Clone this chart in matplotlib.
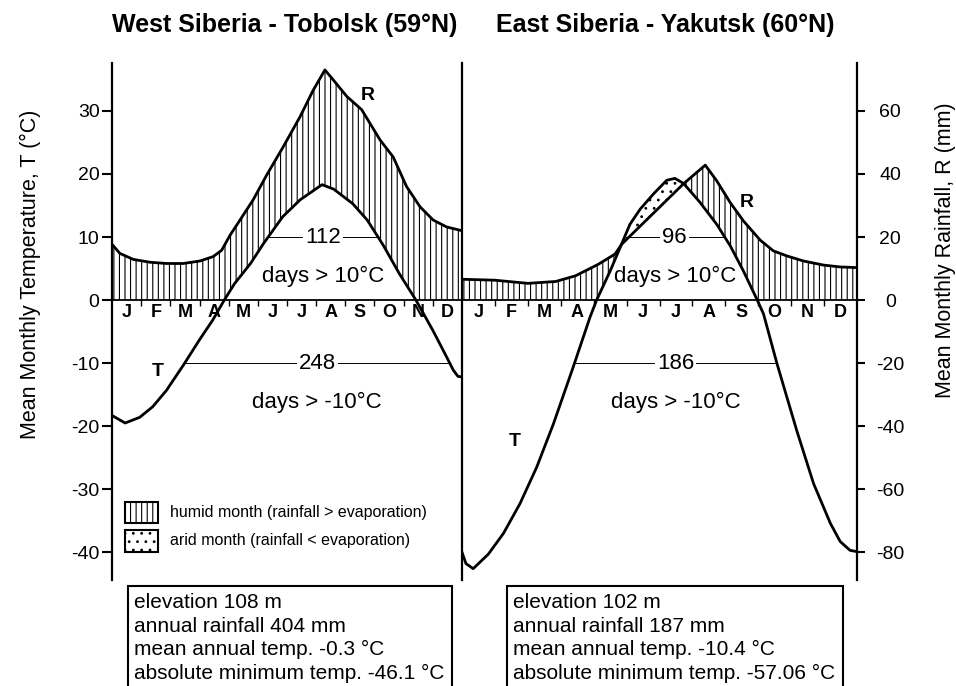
import matplotlib.pyplot as plt
import numpy as np
from matplotlib.patches import Rectangle

plt.rcParams['font.family'] = ['Liberation Sans', 'DejaVu Sans']
plt.rcParams['hatch.linewidth'] = 0.8
plt.rcParams['axes.unicode_minus'] = False

W, H = 956, 686

months = ['J', 'F', 'M', 'A', 'M', 'J', 'J', 'A', 'S', 'O', 'N', 'D']

# West Siberia - Tobolsk; positions in months from 1 Jan, temperature in degC, rainfall in mm
tob_t_pos = [0, 0.45, 0.95, 1.4, 1.87, 2.45, 3.0, 3.45, 3.85, 4.2, 4.75, 5.2, 5.85, 6.45, 7.2, 7.6,
             8.25, 8.75, 9.3, 9.85, 10.42, 11.0, 11.47, 11.7, 11.86, 12]
tob_temp = [-18.3, -19.5, -18.6, -16.9, -14.3, -10.3, -6.3, -3.2, 0, 2.6, 5.8, 9.0, 13.2, 15.9, 18.3, 17.6,
            15.3, 12.7, 8.7, 4.2, 0, -4.8, -9.0, -11.1, -12.1, -12.2]
tob_r_pos = [0, 0.27, 0.73, 1.3, 1.87, 2.44, 3.02, 3.47, 3.76, 4.05, 4.39, 4.84, 5.3, 5.87, 6.45, 6.9,
             7.3, 7.59, 8.05, 8.56, 9.19, 9.64, 10.1, 10.56, 11.01, 11.47, 12]
tob_rain = [17.7, 14.8, 12.9, 12.0, 11.6, 11.6, 12.4, 13.8, 15.8, 20.6, 25.4, 31.8, 39.6, 48.6, 58.2, 66.6,
            73.0, 69.8, 64.6, 60.4, 50.8, 45.4, 36.0, 29.6, 25.4, 23.2, 22.0]

# East Siberia - Yakutsk
yak_t_pos = [0, 0.12, 0.34, 0.8, 1.26, 1.76, 2.27, 2.78, 3.38, 3.89, 4.09, 4.5, 4.85, 5.1, 5.41, 5.81,
             6.22, 6.47, 6.73, 7.23, 7.74, 8.15, 8.55, 8.97, 9.16, 9.57, 10.17, 10.68, 11.19, 11.49, 11.79, 12]
yak_temp = [-40.0, -41.8, -42.6, -40.3, -37.0, -32.3, -26.5, -19.6, -10.6, -2.7, 0, 4.6, 8.9, 12.0, 14.4, 16.8,
            19.0, 19.3, 18.5, 15.5, 12.0, 8.6, 4.6, 0, -2.2, -10.1, -20.7, -29.1, -35.4, -38.3, -39.7, -39.9]
yak_r_pos = [0, 1.0, 2.0, 2.85, 3.45, 4.15, 4.65, 4.85, 6.73, 7.39, 7.74, 8.15, 8.55, 9.06, 9.46, 9.87,
             10.37, 10.98, 11.49, 12]
yak_rain = [6.6, 6.3, 5.3, 5.9, 7.7, 11.4, 14.6, 17.7, 36.9, 42.8, 37.8, 30.9, 25.1, 19.0, 15.6, 14.0,
            12.4, 11.1, 10.5, 10.3]

tob_title = 'West Siberia - Tobolsk (59°N)'
yak_title = 'East Siberia - Yakutsk (60°N)'
tob_days = (112, 248)
yak_days = (96, 186)
tob_info = ['elevation 108 m', 'annual rainfall 404 mm', 'mean annual temp. -0.3 °C',
            'absolute minimum temp. -46.1 °C']
yak_info = ['elevation 102 m', 'annual rainfall 187 mm', 'mean annual temp. -10.4 °C',
            'absolute minimum temp. -57.06 °C']

t_lo, t_hi = -44.4, 37.6


def fx(px):
    return px / W


def fy(py):
    return 1 - py / H


def crossings(x, y, level):
    x = np.asarray(x, float)
    d = np.asarray(y, float) - level
    idx = np.where(np.sign(d[:-1]) != np.sign(d[1:]))[0]
    return [x[i] + (x[i + 1] - x[i]) * d[i] / (d[i] - d[i + 1]) for i in idx]


def draw_panel(ax, t_pos, temp, r_pos, rain, days, hatch, r_lab, t_lab):
    rain_t = np.asarray(rain) / 2  # 10 degC == 20 mm
    x = np.union1d(t_pos, r_pos)
    t = np.interp(x, t_pos, temp)
    r = np.interp(x, r_pos, rain_t)
    lower = np.maximum(t, 0)
    ax.fill_between(x, lower, r, where=r >= lower, interpolate=True, facecolor='none',
                    edgecolor='black', hatch=hatch, linewidth=0)
    ax.fill_between(x, r, t, where=t > r, interpolate=True, facecolor='none',
                    edgecolor='black', hatch='..', linewidth=0)
    ax.axhline(0, color='black', lw=1.3)
    ax.vlines(np.arange(1, 12), -0.9, 0, color='black', lw=1)
    ax.plot(r_pos, rain_t, color='black', lw=2.0, solid_joinstyle='round')
    ax.plot(t_pos, temp, color='black', lw=2.0, solid_joinstyle='round')
    for i, m in enumerate(months):
        ax.text(i + 0.5, -1.9, m, ha='center', va='center', fontsize=13, fontweight='bold')

    for level, n, lab in [(10, days[0], 'days > 10°C'), (-10, days[1], 'days > -10°C')]:
        c = crossings(t_pos, temp, level)
        x0, x1 = c[0], c[-1]
        ax.hlines(level, x0, x1, color='black', lw=0.7)
        xm = (x0 + x1) / 2
        ax.text(xm, level, str(n), ha='center', va='center', fontsize=16,
                bbox=dict(facecolor='white', edgecolor='none', pad=1.5))
        ax.text(xm, level - 6.3, lab, ha='center', va='center', fontsize=16)

    ax.text(r_lab[0], r_lab[1], 'R', ha='center', va='center', fontsize=14, fontweight='bold')
    ax.text(t_lab[0], t_lab[1], 'T', ha='center', va='center', fontsize=14, fontweight='bold')
    ax.set_xlim(0, 12)
    ax.set_ylim(t_lo, t_hi)
    ax.set_xticks([])
    for s in ['top', 'bottom']:
        ax.spines[s].set_visible(False)
    for s in ['left', 'right']:
        ax.spines[s].set_linewidth(1.6)


fig = plt.figure(figsize=(W / 100, H / 100), dpi=100)
ax1 = fig.add_axes([fx(112), fy(580), fx(462) - fx(112), fy(63) - fy(580)])
ax2 = fig.add_axes([fx(462), fy(580), fx(857) - fx(462), fy(63) - fy(580)])
ax1.patch.set_alpha(0)
ax2.patch.set_alpha(0)

draw_panel(ax1, tob_t_pos, tob_temp, tob_r_pos, tob_rain, tob_days, '|||', (8.78, 32.4), (1.58, -11.4))
draw_panel(ax2, yak_t_pos, yak_temp, yak_r_pos, yak_rain, yak_days, '|||', (8.66, 15.5), (1.61, -22.5))

ax1.set_yticks(range(-40, 31, 10))
ax1.tick_params(axis='y', direction='out', length=7, width=1.5, labelsize=14, pad=2)
ax2.set_yticks([])
ax2.spines['left'].set_visible(False)
ax2.spines['right'].set_visible(False)

rax = ax2.twinx()
rax.set_ylim(2 * t_lo, 2 * t_hi)
rax.set_yticks(range(-80, 61, 20))
rax.tick_params(axis='y', direction='out', length=6, width=1.5, labelsize=14, pad=18)
for lbl in rax.get_yticklabels():
    lbl.set_horizontalalignment('center')
for s in ['top', 'bottom', 'left']:
    rax.spines[s].set_visible(False)
rax.spines['right'].set_linewidth(1.6)

fig.text(fx(284.5), fy(25), tob_title, ha='center', va='center', fontsize=18, fontweight='bold')
fig.text(fx(665), fy(25), yak_title, ha='center', va='center', fontsize=18, fontweight='bold')
fig.text(fx(30), fy(274), 'Mean Monthly Temperature, T (°C)', rotation=90, ha='center', va='center',
         fontsize=15.5)
fig.text(fx(945), fy(250), 'Mean Monthly Rainfall, R (mm)', rotation=90, ha='center', va='center',
         fontsize=15.5)

# legend
for (y0, y1), hatch, lab in [((502, 523), '|||', 'humid month (rainfall > evaporation)'),
                             ((530, 552), '..', 'arid month (rainfall < evaporation)')]:
    fig.add_artist(Rectangle((fx(125), fy(y1)), fx(158) - fx(125), fy(y0) - fy(y1),
                             transform=fig.transFigure, facecolor='white', edgecolor='black',
                             lw=1.5, hatch=hatch))
    fig.text(fx(170), fy((y0 + y1) / 2), lab, ha='left', va='center', fontsize=11.5)

# station info boxes, open at the bottom edge
for (x0, x1), info in [((128, 452), tob_info), ((507, 843), yak_info)]:
    fig.add_artist(Rectangle((fx(x0), fy(720)), fx(x1) - fx(x0), fy(586) - fy(720),
                             transform=fig.transFigure, facecolor='white', edgecolor='black', lw=1.5))
    fig.text(fx(x0 + 6), fy(593), '\n'.join(info), ha='left', va='top', fontsize=15, linespacing=1.3)

fig.savefig('out.png', dpi=100)
